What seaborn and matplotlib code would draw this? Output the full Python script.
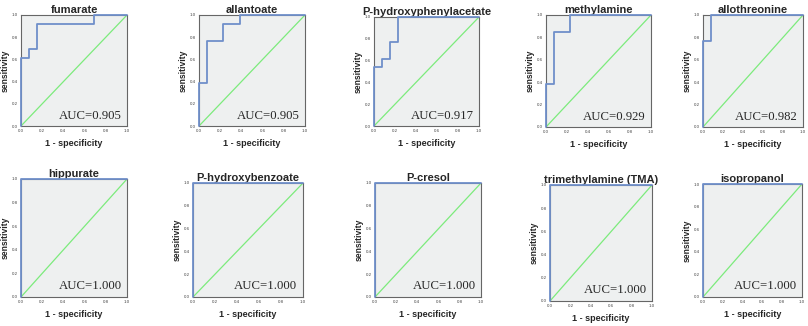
import matplotlib
matplotlib.use("Agg")
import matplotlib.pyplot as plt
import seaborn as sns
import pandas as pd

# ROC curves of the urinary metabolites (step points)
names = ["fumarate", "allantoate", "P-hydroxyphenylacetate", "methylamine", "allothreonine",
         "hippurate", "P-hydroxybenzoate", "P-cresol", "trimethylamine (TMA)", "isopropanol"]
aucs = [0.905, 0.905, 0.917, 0.929, 0.982, 1.000, 1.000, 1.000, 1.000, 1.000]

fpr_fumarate = [0, 0, 0.077, 0.077, 0.154, 0.154, 0.692, 0.692, 1.0]
tpr_fumarate = [0, 0.615, 0.615, 0.692, 0.692, 0.923, 0.923, 1.0, 1.0]
fpr_allantoate = [0, 0, 0.077, 0.077, 0.231, 0.231, 0.385, 0.385, 1.0]
tpr_allantoate = [0, 0.385, 0.385, 0.769, 0.769, 0.923, 0.923, 1.0, 1.0]
fpr_phpa = [0, 0, 0.077, 0.077, 0.154, 0.154, 0.231, 0.231, 1.0]
tpr_phpa = [0, 0.538, 0.538, 0.615, 0.615, 0.769, 0.769, 1.0, 1.0]
fpr_methylamine = [0, 0, 0.077, 0.077, 0.231, 0.231, 1.0]
tpr_methylamine = [0, 0.385, 0.385, 0.846, 0.846, 1.0, 1.0]
fpr_allothreonine = [0, 0, 0.077, 0.077, 1.0]
tpr_allothreonine = [0, 0.769, 0.769, 1.0, 1.0]
fpr_perfect = [0, 0, 1.0]
tpr_perfect = [0, 1.0, 1.0]

fprs = [fpr_fumarate, fpr_allantoate, fpr_phpa, fpr_methylamine, fpr_allothreonine] + [fpr_perfect] * 5
tprs = [tpr_fumarate, tpr_allantoate, tpr_phpa, tpr_methylamine, tpr_allothreonine] + [tpr_perfect] * 5
diag = [0, 1.0]
ticks = [0.0, 0.2, 0.4, 0.6, 0.8, 1.0]

# axes boxes in pixels: left, top, right, bottom
boxes = [(21, 15, 127, 126), (199, 15, 305, 126), (374, 17, 479, 126), (546, 15, 651, 127),
         (703, 15, 803, 127), (21, 179, 127, 297), (193, 183, 303, 297), (375, 183, 481, 297),
         (550, 185, 652, 301), (703, 184, 802, 297)]

sns.set_style("white")
plt.rcParams['font.family'] = ['Liberation Sans', 'DejaVu Sans']

W, H = 808, 326
fig = plt.figure(figsize=(W / 100, H / 100), dpi=100)

for i in range(10):
    l, t, r, b = boxes[i]
    ax = fig.add_axes([l / W, (H - b) / H, (r - l) / W, (b - t) / H])
    ax.set_facecolor("#eef0f0")
    sns.lineplot(x=diag, y=diag, ax=ax, color="#7CEB7C", lw=0.9, sort=False, estimator=None)
    df = pd.DataFrame({"fpr": fprs[i], "tpr": tprs[i]})
    sns.lineplot(data=df, x="fpr", y="tpr", ax=ax, color="#6f8fca", lw=1.3,
                 sort=False, estimator=None, clip_on=False, zorder=5)
    ax.set_xlim(0, 1)
    ax.set_ylim(0, 1)
    ax.set_xticks(ticks)
    ax.set_yticks(ticks)
    ax.set_xticklabels(["%.1f" % v for v in ticks])
    ax.set_yticklabels(["%.1f" % v for v in ticks])
    ax.tick_params(axis="both", labelsize=3.2, length=1.5, width=0.5, pad=1, colors="#444444")
    for s in ax.spines.values():
        s.set_color("#666666")
        s.set_linewidth(0.8)
    ax.set_title(names[i], fontsize=8, fontweight="bold", pad=1.5)
    ax.set_xlabel("1 - specificity", fontsize=6.5, fontweight="bold", labelpad=4)
    ax.set_ylabel("sensitivity", fontsize=6.2, fontweight="bold", labelpad=1)
    ax.text(0.95, 0.04, "AUC=%.3f" % aucs[i], transform=ax.transAxes, ha="right", va="bottom",
            fontsize=9.2, family=["Liberation Serif", "DejaVu Serif"], zorder=6)

fig.savefig("out.png", dpi=100)
